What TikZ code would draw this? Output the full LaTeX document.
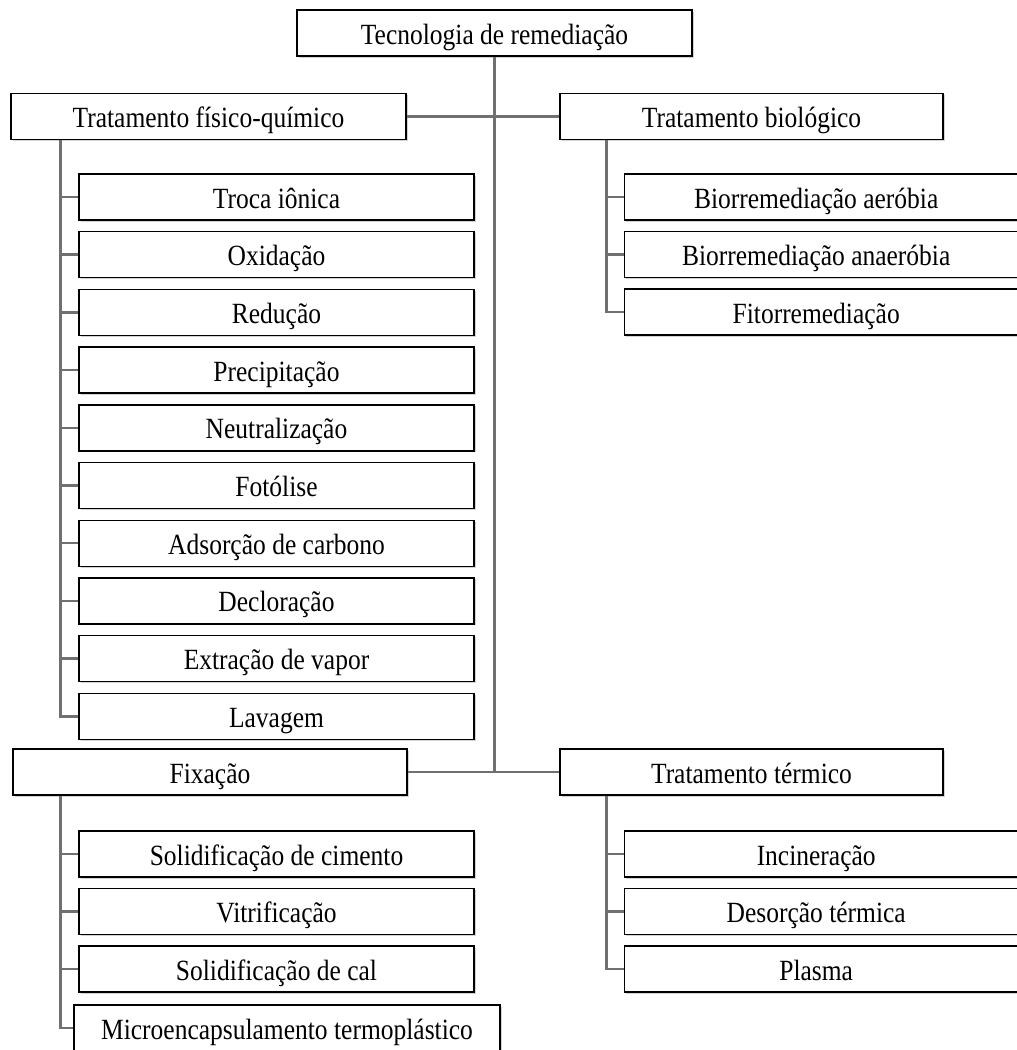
\documentclass[tikz,border=0pt]{standalone}
\usepackage{fontspec}
\setmainfont{Liberation Serif}
\usepackage{graphicx}
\usetikzlibrary{shadows}
\definecolor{linegray}{RGB}{112,112,112}
\newcommand{\tall}[1]{\scalebox{1}[1.15]{#1}}
\newcommand{\cutlbl}[1]{\makebox[383pt]{\tall{#1}}\rule{22pt}{0pt}}

\begin{document}
\begin{tikzpicture}[x=1pt, y=-1pt, font=\fontsize{25.5}{30}\selectfont,
    box/.style={draw, line width=1.4pt, fill=white, minimum height=46pt, inner sep=0pt,
      text height=23pt, text depth=1pt,
      drop shadow={shadow xshift=1.5pt, shadow yshift=-1.5pt, opacity=.35}},
    cutbox/.style={box, anchor=west, inner xsep=0pt},
    bar/.style={draw=linegray, line width=2.5pt}]
    % Bildbereich
    \useasboundingbox (0,0) rectangle (1017,1050);
    % Hauptknoten
    \node[box, minimum width=395pt] (tec) at (494.5,33) {\tall{Tecnologia de remediação}};
    \node[box, minimum width=395pt] (fq) at (208.5,116.5) {\tall{Tratamento físico-químico}};
    \node[box, minimum width=383pt] (bio) at (751.5,116.5) {\tall{Tratamento biológico}};
    \node[box, minimum width=394pt] (fix) at (210,772) {\tall{Fixação}};
    \node[box, minimum width=383pt] (term) at (751.5,772) {\tall{Tratamento térmico}};
    % Tratamento fisico-quimico
    \foreach \lbl [count=\i from 0] in {Troca iônica, Oxidação, Redução, Precipitação,
        Neutralização, Fotólise, Adsorção de carbono, Decloração, Extração de vapor, Lavagem}
      \node[box, minimum width=395pt] (fq\i) at (276.5,197+57.7*\i) {\tall{\lbl}};
    % Fixacao
    \foreach \lbl [count=\i from 0] in {Solidificação de cimento, Vitrificação, Solidificação de cal}
      \node[box, minimum width=395pt] (fx\i) at (276.5,854+57.5*\i) {\tall{\lbl}};
    \node[box, minimum width=426pt] (fx3) at (287,1028) {\tall{Microencapsulamento termoplástico}};
    % Tratamento biologico / termico
    \foreach \lbl [count=\i from 0] in {Biorremediação aeróbia, Biorremediação anaeróbia, Fitorremediação}
      \node[cutbox] (bi\i) at (624,197+57.5*\i) {\cutlbl{\lbl}};
    \foreach \lbl [count=\i from 0] in {Incineração, Desorção térmica, Plasma}
      \node[cutbox] (tt\i) at (624,854+57.5*\i) {\cutlbl{\lbl}};
    % Verbindungen
    \draw[bar] (tec.south) -- (tec.south |- fix.east);
    \draw[bar] (fq.east) -- (bio.west);
    \draw[bar] (fix.east) -- (term.west);
    \coordinate (fqbar) at ([xshift=50pt]fq.south west);
    \draw[bar] (fqbar) |- (fq9.west);
    \foreach \i in {0,...,8} \draw[bar] (fqbar |- fq\i.west) -- (fq\i.west);
    \coordinate (fxbar) at ([xshift=48pt]fix.south west);
    \draw[bar] (fxbar) |- (fx3.west);
    \foreach \i in {0,...,2} \draw[bar] (fxbar |- fx\i.west) -- (fx\i.west);
    \coordinate (bibar) at ([xshift=47pt]bio.south west);
    \draw[bar] (bibar) |- (bi2.west);
    \foreach \i in {0,1} \draw[bar] (bibar |- bi\i.west) -- (bi\i.west);
    \coordinate (ttbar) at ([xshift=47pt]term.south west);
    \draw[bar] (ttbar) |- (tt2.west);
    \foreach \i in {0,1} \draw[bar] (ttbar |- tt\i.west) -- (tt\i.west);
\end{tikzpicture}
\end{document}
